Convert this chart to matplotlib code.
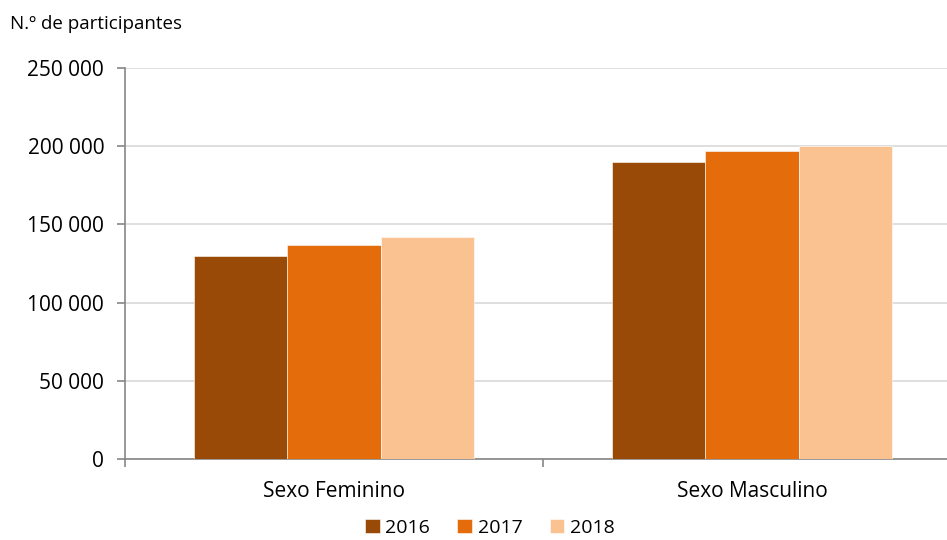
import numpy as np
import matplotlib.pyplot as plt
from matplotlib.ticker import FuncFormatter

plt.rcParams['font.family'] = ['Open Sans', 'DejaVu Sans']

# data
categories = ["Sexo Feminino", "Sexo Masculino"]
years = ["2016", "2017", "2018"]
v2016 = [130000, 190000]
v2017 = [137000, 197000]
v2018 = [142000, 200300]
colors = ["#9A4A07", "#E46C0B", "#FAC191"]

fig = plt.figure(figsize=(9.47, 5.40), dpi=100)
ax = fig.add_axes([125 / 947, 1 - 459 / 540, 836 / 947, 391 / 540])

x = np.arange(len(categories))
w = 0.2225
for i, (vals, yr) in enumerate(zip([v2016, v2017, v2018], years)):
    ax.bar(x + (i - 1) * w, vals, width=w, color=colors[i], label=yr,
           edgecolor="white", linewidth=0.4, zorder=3)

ax.set_xlim(-0.5, 1.5)
ax.set_ylim(0, 250000)
ax.set_yticks(np.arange(0, 250001, 50000))
ax.yaxis.set_major_formatter(FuncFormatter(lambda v, p: f"{int(v):,}".replace(",", " ")))
ax.grid(axis="y", color="#D9D9D9", linewidth=1.2, zorder=0)

ax.set_xticks(x)
ax.set_xticklabels(categories, fontsize=15)
ax.set_xticks([-0.5, 0.5, 1.5], minor=True)
ax.tick_params(axis="x", which="major", length=0, pad=16)
ax.tick_params(axis="x", which="minor", length=6, color="#868686", width=1.2)
ax.tick_params(axis="y", length=6, color="#868686", width=1.2, labelsize=15, pad=9)

for s in ["top", "right"]:
    ax.spines[s].set_visible(False)
for s in ["left", "bottom"]:
    ax.spines[s].set_color("#868686")
    ax.spines[s].set_linewidth(1.2)

fig.text(10 / 947, 1 - 24 / 540, "N.º de participantes", fontsize=13.5, va="center")

fig.legend(loc="center", bbox_to_anchor=(490 / 947, 1 - 528 / 540), ncol=3,
           frameon=False, fontsize=14, borderpad=0.1,
           handlelength=0.75, handleheight=0.75,
           handletextpad=0.3, columnspacing=1.4)

fig.savefig("out.png", dpi=100)
